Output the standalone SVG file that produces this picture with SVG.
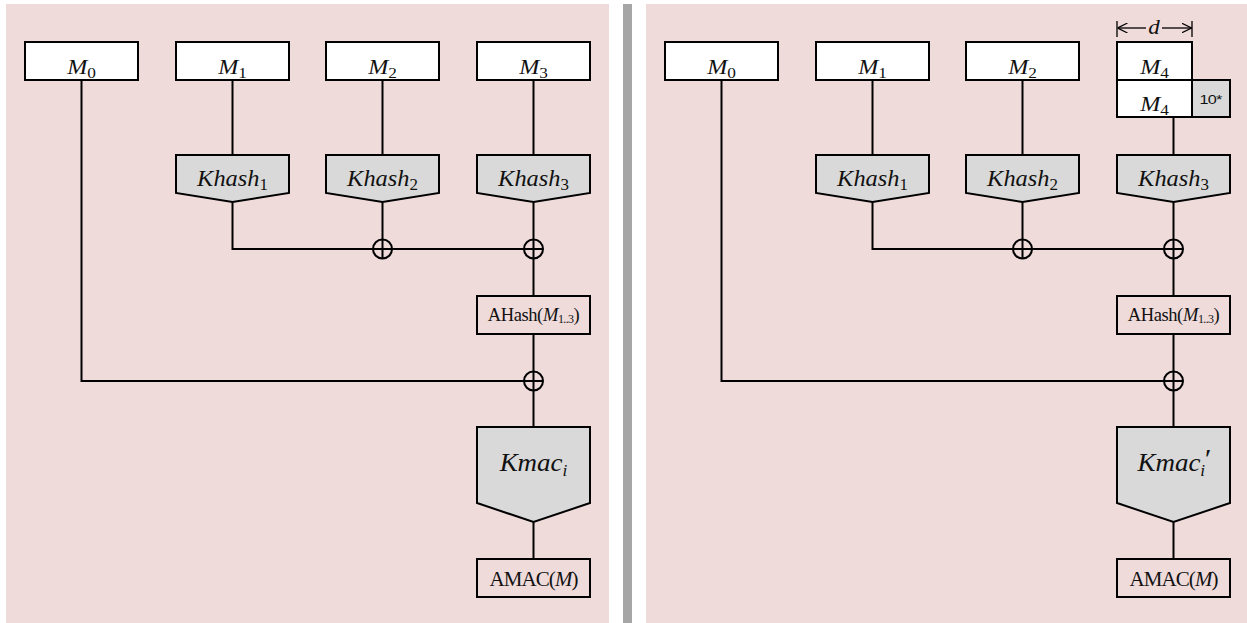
<svg xmlns="http://www.w3.org/2000/svg" width="1247" height="623" viewBox="0 0 1247 623">
<defs>
<style>
.panel{fill:#f0dbdb}
.box{fill:#ffffff;stroke:#000;stroke-width:2}
.pbox{fill:#f0dbdb;stroke:#000;stroke-width:2}
.gbox{fill:#d9d9d9;stroke:#000;stroke-width:2}
.ln{fill:none;stroke:#000;stroke-width:2}
.thin{fill:none;stroke:#000;stroke-width:1.3}
text{font-family:"Liberation Serif","Times New Roman",serif;fill:#111;text-anchor:middle}
.m{font-size:21px}
.k{font-size:23px}
.km{font-size:25px}
.a{font-size:18.5px;letter-spacing:-0.4px}
.am{font-size:21px;letter-spacing:-0.9px}
.s{font-size:15px}
.sa{font-size:12px;letter-spacing:-0.6px}
.sk{font-size:16px}
.it{font-style:italic}
.sans{font-family:"Liberation Sans",Arial,sans-serif;font-size:13px}
</style>
<marker id="ah" viewBox="0 0 10 10" refX="10" refY="5" markerWidth="10" markerHeight="10" markerUnits="userSpaceOnUse" orient="auto">
<path d="M0,0 L10,5 L0,10" fill="none" stroke="#000" stroke-width="1.2"/>
</marker>
</defs>

<rect class="panel" x="6" y="4" width="603" height="619"/>
<rect x="623" y="4" width="9" height="619" fill="#a6a6a6"/>
<rect class="panel" x="646" y="4" width="601" height="619"/>

<g id="connectors">
<!-- left -->
<path class="ln" d="M81.5,80 V381 H543"/>
<path class="ln" d="M232.5,80 V155 M232.5,202 V249 H543"/>
<path class="ln" d="M382.5,80 V155 M382.5,202 V258.5"/>
<path class="ln" d="M533.5,80 V155 M533.5,202 V296 M533.5,334 V427 M533.5,522 V559"/>
<circle class="ln" cx="382.5" cy="249" r="9.5"/>
<circle class="ln" cx="533.5" cy="249" r="9.5"/>
<circle class="ln" cx="533.5" cy="381" r="9.5"/>
<!-- right -->
<path class="ln" d="M721.5,80 V381 H1183"/>
<path class="ln" d="M872.5,80 V155 M872.5,202 V249 H1183"/>
<path class="ln" d="M1022.5,80 V155 M1022.5,202 V258.5"/>
<path class="ln" d="M1173.5,117 V155 M1173.5,202 V296 M1173.5,334 V427 M1173.5,522 V559"/>
<circle class="ln" cx="1022.5" cy="249" r="9.5"/>
<circle class="ln" cx="1173.5" cy="249" r="9.5"/>
<circle class="ln" cx="1173.5" cy="381" r="9.5"/>
<!-- dimension d -->
<path class="thin" d="M1117,21 V37 M1192,21 V37"/>
<path class="thin" d="M1146,28 H1117.5" marker-end="url(#ah)"/>
<path class="thin" d="M1162,28 H1191.5" marker-end="url(#ah)"/>
</g>

<g id="L-M0"><rect class="box" x="25" y="42" width="113" height="38"/><text class="m" transform="translate(81.5,74) scale(1.15,1)"><tspan class="it">M</tspan><tspan class="s" dy="4">0</tspan></text></g>
<g id="L-M1"><rect class="box" x="176" y="42" width="113" height="38"/><text class="m" transform="translate(232.5,74) scale(1.15,1)"><tspan class="it">M</tspan><tspan class="s" dy="4">1</tspan></text></g>
<g id="L-M2"><rect class="box" x="326" y="42" width="113" height="38"/><text class="m" transform="translate(382.5,74) scale(1.15,1)"><tspan class="it">M</tspan><tspan class="s" dy="4">2</tspan></text></g>
<g id="L-M3"><rect class="box" x="477" y="42" width="113" height="38"/><text class="m" transform="translate(533.5,74) scale(1.15,1)"><tspan class="it">M</tspan><tspan class="s" dy="4">3</tspan></text></g>

<g id="L-Khash1"><path class="gbox" d="M176,155 H289 V193 L232.5,202 L176,193 Z"/><text class="k" transform="translate(232.5,186) scale(1.06,1)"><tspan class="it">Khash</tspan><tspan class="sk" dy="4">1</tspan></text></g>
<g id="L-Khash2"><path class="gbox" d="M326,155 H439 V193 L382.5,202 L326,193 Z"/><text class="k" transform="translate(382.5,186) scale(1.06,1)"><tspan class="it">Khash</tspan><tspan class="sk" dy="4">2</tspan></text></g>
<g id="L-Khash3"><path class="gbox" d="M477,155 H590 V193 L533.5,202 L477,193 Z"/><text class="k" transform="translate(533.5,186) scale(1.06,1)"><tspan class="it">Khash</tspan><tspan class="sk" dy="4">3</tspan></text></g>

<g id="L-AHash"><rect class="pbox" x="477" y="296" width="113" height="38"/><text class="a" x="533.5" y="321"><tspan>AHash(</tspan><tspan class="it">M</tspan><tspan class="sa" dy="2">1..3</tspan><tspan dy="-2">)</tspan></text></g>
<g id="L-Kmac"><path class="gbox" d="M477,427 H590 V503 L533.5,522 L477,503 Z"/><text class="km" transform="translate(533.5,471) scale(1.08,1)"><tspan class="it">Kmac</tspan><tspan class="sk it" dy="5">i</tspan></text></g>
<g id="L-AMAC"><rect class="pbox" x="477" y="559" width="113" height="38"/><text class="am" x="533.5" y="586">AMAC(<tspan class="it">M</tspan>)</text></g>

<g id="R-M0"><rect class="box" x="665" y="42" width="113" height="38"/><text class="m" transform="translate(721.5,74) scale(1.15,1)"><tspan class="it">M</tspan><tspan class="s" dy="4">0</tspan></text></g>
<g id="R-M1"><rect class="box" x="816" y="42" width="113" height="38"/><text class="m" transform="translate(872.5,74) scale(1.15,1)"><tspan class="it">M</tspan><tspan class="s" dy="4">1</tspan></text></g>
<g id="R-M2"><rect class="box" x="966" y="42" width="113" height="38"/><text class="m" transform="translate(1022.5,74) scale(1.15,1)"><tspan class="it">M</tspan><tspan class="s" dy="4">2</tspan></text></g>
<g id="R-M4a"><rect class="box" x="1117" y="42" width="75" height="38"/><text class="m" transform="translate(1154.5,74) scale(1.15,1)"><tspan class="it">M</tspan><tspan class="s" dy="4">4</tspan></text></g>
<g id="R-M4b"><rect class="box" x="1117" y="80" width="75" height="37"/><text class="m" transform="translate(1154.5,111) scale(1.15,1)"><tspan class="it">M</tspan><tspan class="s" dy="4">4</tspan></text></g>
<g id="R-pad"><rect class="gbox" x="1192" y="80" width="38" height="37"/><text class="sans" transform="translate(1210.5,104) scale(1.25,1)" letter-spacing="-0.6">10*</text></g>

<g id="R-Khash1"><path class="gbox" d="M816,155 H929 V193 L872.5,202 L816,193 Z"/><text class="k" transform="translate(872.5,186) scale(1.06,1)"><tspan class="it">Khash</tspan><tspan class="sk" dy="4">1</tspan></text></g>
<g id="R-Khash2"><path class="gbox" d="M966,155 H1079 V193 L1022.5,202 L966,193 Z"/><text class="k" transform="translate(1022.5,186) scale(1.06,1)"><tspan class="it">Khash</tspan><tspan class="sk" dy="4">2</tspan></text></g>
<g id="R-Khash3"><path class="gbox" d="M1117,155 H1230 V193 L1173.5,202 L1117,193 Z"/><text class="k" transform="translate(1173.5,186) scale(1.06,1)"><tspan class="it">Khash</tspan><tspan class="sk" dy="4">3</tspan></text></g>

<g id="R-AHash"><rect class="pbox" x="1117" y="296" width="113" height="38"/><text class="a" x="1173.5" y="321"><tspan>AHash(</tspan><tspan class="it">M</tspan><tspan class="sa" dy="2">1..3</tspan><tspan dy="-2">)</tspan></text></g>
<g id="R-Kmac"><path class="gbox" d="M1117,427 H1230 V503 L1173.5,522 L1117,503 Z"/><text class="km" transform="translate(1173.5,471) scale(1.08,1)"><tspan class="it">Kmac</tspan><tspan class="sk it" dy="5">i</tspan><tspan class="it" dx="-2" dy="-8" font-size="28">′</tspan></text></g>
<g id="R-AMAC"><rect class="pbox" x="1117" y="559" width="113" height="38"/><text class="am" x="1173.5" y="586">AMAC(<tspan class="it">M</tspan>)</text></g>

<g id="R-dlabel"><text class="it" font-size="20" transform="translate(1154,34) scale(1.15,1)">d</text></g>
</svg>
